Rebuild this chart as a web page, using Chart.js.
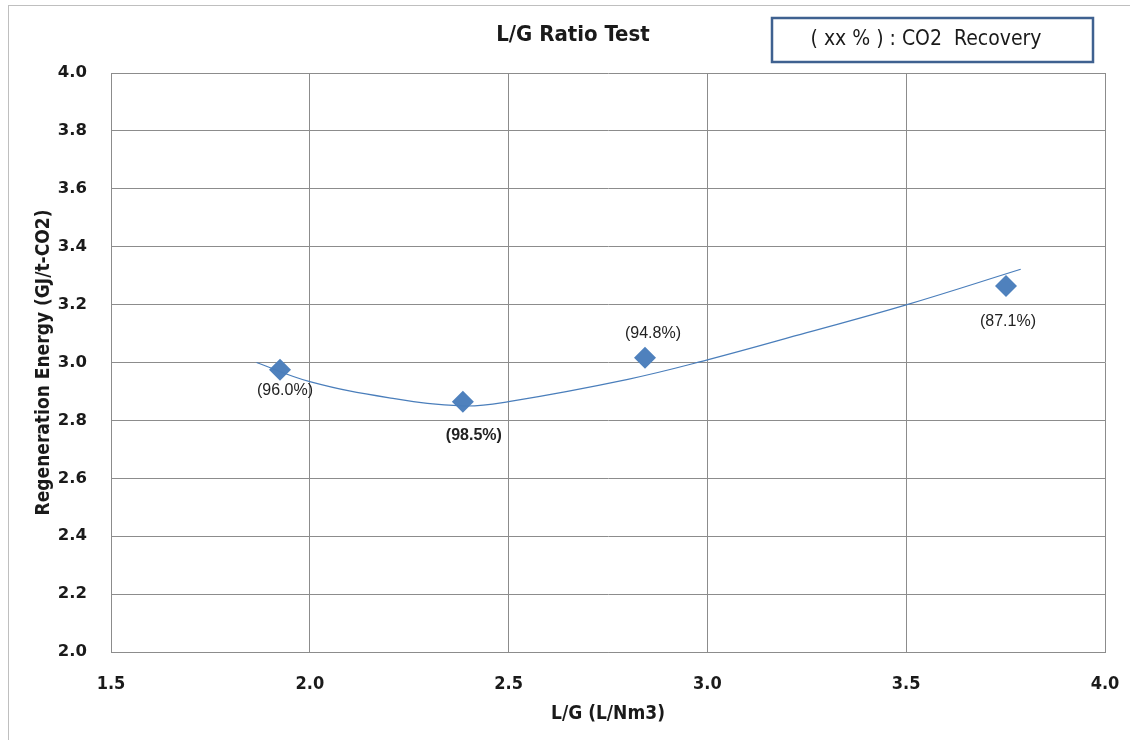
<!DOCTYPE html>
<html lang="en">
<head>
    <meta charset="UTF-8">
    <title>L/G Ratio Test</title>
    <style>
        body { margin: 0; background: #fff; }
        #wrap { width: 1130px; height: 740px; position: relative; }
    </style>
    <script src="https://cdn.jsdelivr.net/npm/chart.js"></script>
</head>
<body>
<div id="wrap"><canvas id="lgChart" width="1130" height="740"></canvas></div>
<script>
    // measured points
    const lgRatio = [1.925, 2.385, 2.843, 3.751];
    const regenEnergy = [2.975, 2.864, 3.016, 3.264];
    const recoveryLabels = ["(96.0%)", "(98.5%)", "(94.8%)", "(87.1%)"];
    const labelBold = [false, true, false, false];

    // trend line
    const trendX = [1.866, 2.0, 2.2, 2.385, 2.5, 2.8, 3.0, 3.25, 3.5, 3.788];
    const trendY = [3.0, 2.934, 2.878, 2.850, 2.865, 2.942, 3.009, 3.103, 3.199, 3.322];

    const xTicks = [1.5, 2.0, 2.5, 3.0, 3.5, 4.0];
    const yTicks = [2.0, 2.2, 2.4, 2.6, 2.8, 3.0, 3.2, 3.4, 3.6, 3.8, 4.0];

    // where each label sits relative to its point (px)
    const labelOffsets = [[5, 21], [11, 34], [8, -24], [2, 36]];

    const narrow = "'Liberation Sans Narrow', 'DejaVu Sans Condensed', sans-serif";

    const decorations = {
        id: "decorations",
        afterDraw(chart) {
            const ctx = chart.ctx;
            ctx.save();
            // outer frame
            ctx.strokeStyle = "#bfbfbf";
            ctx.lineWidth = 1;
            ctx.strokeRect(8.5, 5.5, 1200, 800);
            // title
            ctx.fillStyle = "#1a1a1a";
            ctx.font = "bold 22px " + narrow;
            ctx.textAlign = "center";
            ctx.textBaseline = "middle";
            ctx.fillText("L/G Ratio Test", 573, 35);
            // legend box
            ctx.strokeStyle = "#3f6190";
            ctx.lineWidth = 2.5;
            ctx.strokeRect(772, 18, 321, 44);
            ctx.font = "21px " + narrow;
            ctx.fillText("( xx % ) : CO2  Recovery", 926, 40);
            // data labels
            const meta = chart.getDatasetMeta(1);
            meta.data.forEach((pt, i) => {
                ctx.font = (labelBold[i] ? "bold " : "") + "16px 'Liberation Sans', Arial, sans-serif";
                ctx.fillStyle = "#222";
                ctx.fillText(recoveryLabels[i], pt.x + labelOffsets[i][0], pt.y + labelOffsets[i][1]);
            });
            ctx.restore();
        }
    };

    new Chart(document.getElementById("lgChart"), {
        type: "scatter",
        data: {
            datasets: [
                {
                    label: "trend",
                    data: trendX.map((x, i) => ({ x: x, y: trendY[i] })),
                    showLine: true,
                    borderColor: "#4a7ebb",
                    borderWidth: 1.2,
                    pointRadius: 0,
                    tension: 0.4,
                    fill: false
                },
                {
                    label: "Regeneration Energy",
                    data: lgRatio.map((x, i) => ({ x: x, y: regenEnergy[i] })),
                    pointStyle: "rectRot",
                    pointRadius: 11,
                    pointBorderWidth: 0,
                    pointBackgroundColor: "#4f81bd",
                    pointBorderColor: "#4f81bd",
                    showLine: false
                }
            ]
        },
        options: {
            responsive: false,
            animation: false,
            layout: { padding: { left: 33, right: 25, top: 73, bottom: 11 } },
            plugins: {
                legend: { display: false },
                tooltip: { enabled: false }
            },
            scales: {
                x: {
                    type: "linear",
                    min: 1.5,
                    max: 4.0,
                    afterBuildTicks: s => { s.ticks = xTicks.map(v => ({ value: v })); },
                    afterFit: s => { s.height = 77; s.paddingLeft = 0; s.paddingRight = 0; },
                    grid: { color: "#8c8c8c", drawTicks: false },
                    border: { color: "#8c8c8c" },
                    ticks: {
                        padding: 22,
                        color: "#1a1a1a",
                        font: { family: narrow, size: 18, weight: "bold" },
                        callback: v => v.toFixed(1)
                    },
                    title: {
                        display: true,
                        text: "L/G (L/Nm3)",
                        color: "#1a1a1a",
                        font: { family: narrow, size: 19, weight: "bold" },
                        padding: { top: 4 }
                    }
                },
                y: {
                    type: "linear",
                    min: 2.0,
                    max: 4.0,
                    afterBuildTicks: s => { s.ticks = yTicks.map(v => ({ value: v })); },
                    afterFit: s => { s.width = 78; },
                    grid: { color: "#8c8c8c", drawTicks: false },
                    border: { color: "#8c8c8c" },
                    ticks: {
                        padding: 24,
                        color: "#1a1a1a",
                        font: { family: "'DejaVu Sans', Verdana, sans-serif", size: 16.5, weight: "bold" },
                        callback: v => v.toFixed(1)
                    },
                    title: {
                        display: true,
                        text: "Regeneration Energy (GJ/t-CO2)",
                        color: "#1a1a1a",
                        font: { family: narrow, size: 19, weight: "bold" },
                        padding: { top: 0, bottom: 0 }
                    }
                }
            }
        },
        plugins: [decorations]
    });
</script>
</body>
</html>
